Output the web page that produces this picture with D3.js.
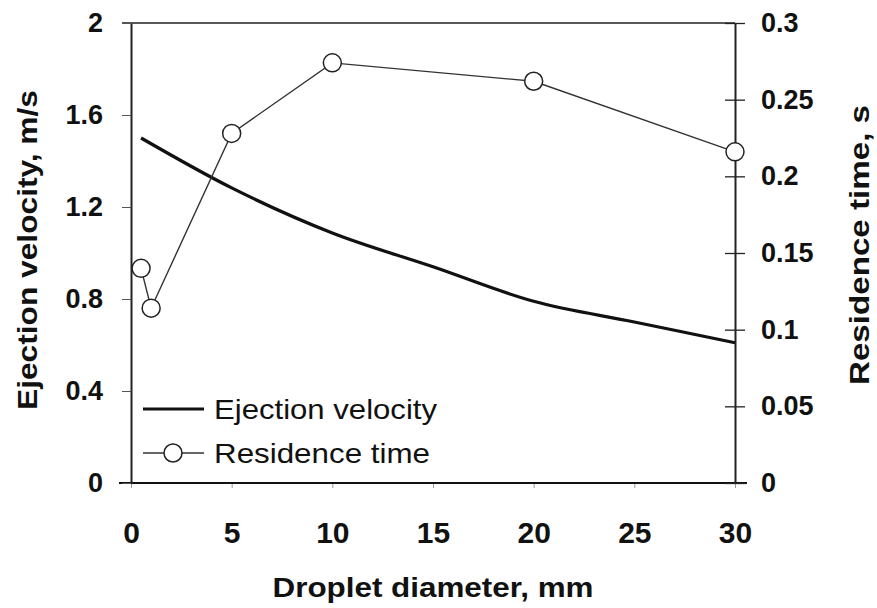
<!DOCTYPE html>
<html>
<head>
<meta charset="utf-8">
<script src="https://cdn.jsdelivr.net/npm/d3@7"></script>
<style>
  body { margin: 0; background: #fff; }
  text { font-family: "Liberation Sans", Arial, sans-serif; fill: #111; }
</style>
</head>
<body>
<script>
var w = 877;
var h = 608;

// data
var diameters = [0.5, 1, 5, 10, 20, 30];
var residence = [0.140, 0.114, 0.228, 0.274, 0.262, 0.216];

var velDiameters = [0.5, 5, 10, 15, 20, 25, 30];
var velocity = [1.50, 1.283, 1.087, 0.94, 0.79, 0.70, 0.61];

var xTicks = [0, 5, 10, 15, 20, 25, 30];
var leftTicks = [0, 0.4, 0.8, 1.2, 1.6, 2];
var rightTicks = [0, 0.05, 0.1, 0.15, 0.2, 0.25, 0.3];

var x = d3.scaleLinear().domain([0, 30]).range([131, 735]);
var yL = d3.scaleLinear().domain([0, 2]).range([483, 23]);
var yR = d3.scaleLinear().domain([0, 0.3]).range([483, 23]);

var svg = d3.select("body")
  .append("svg")
  .attr("width", w)
  .attr("height", h);

// top border
svg.append("line")
  .attr("x1", 122).attr("x2", x(30))
  .attr("y1", yL(2)).attr("y2", yL(2))
  .style("stroke", "#222").style("stroke-width", 1.3);

// bottom axis
var xAxis = svg.append("g")
  .attr("transform", "translate(0," + yL(0) + ")")
  .call(d3.axisBottom(x).tickValues(xTicks).tickSize(5).tickSizeOuter(0).tickPadding(33));
xAxis.select(".domain").remove();
xAxis.selectAll(".tick line").style("stroke", "#999");
xAxis.selectAll("text").style("font-size", "30px").style("font-weight", "bold").attr("dy", "0.72em");
svg.append("line")
  .attr("x1", 119).attr("x2", 747)
  .attr("y1", yL(0)).attr("y2", yL(0))
  .style("stroke", "#111").style("stroke-width", 2);

// left axis
var left = svg.append("g")
  .attr("transform", "translate(" + x(0) + ",0)")
  .call(d3.axisLeft(yL).tickValues(leftTicks).tickSize(9).tickSizeOuter(0).tickPadding(20)
    .tickFormat(function(d) { return d3.format("")(d); }));
left.select(".domain").style("stroke", "#222").style("stroke-width", 2);
left.selectAll(".tick line").style("stroke", "#555");
left.selectAll("text").style("font-size", "27px").style("font-weight", "bold").attr("x", -28);

// right axis
var right = svg.append("g")
  .attr("transform", "translate(" + x(30) + ",0)")
  .call(d3.axisRight(yR).tickValues(rightTicks).tickSize(10).tickSizeOuter(0).tickPadding(18)
    .tickFormat(function(d) { return d3.format("")(d); }));
right.select(".domain").style("stroke", "#222").style("stroke-width", 2);
right.selectAll(".tick line").attr("x1", -10).style("stroke", "#222").style("stroke-width", 1.3);
right.selectAll("text").style("font-size", "27px").style("font-weight", "bold").attr("x", 26);

// ejection velocity
var velLine = d3.line()
  .x(function(d, i) { return x(velDiameters[i]); })
  .y(function(d) { return yL(d); })
  .curve(d3.curveMonotoneX);
svg.append("path")
  .datum(velocity)
  .attr("d", velLine)
  .style("fill", "none")
  .style("stroke", "#111")
  .style("stroke-width", 3.2);

// residence time
var resLine = d3.line()
  .x(function(d, i) { return x(diameters[i]); })
  .y(function(d) { return yR(d); });
svg.append("path")
  .datum(residence)
  .attr("d", resLine)
  .style("fill", "none")
  .style("stroke", "#333")
  .style("stroke-width", 1.4);
svg.selectAll("circle.res")
  .data(residence)
  .enter()
  .append("circle")
  .attr("class", "res")
  .attr("cx", function(d, i) { return x(diameters[i]); })
  .attr("cy", function(d) { return yR(d); })
  .attr("r", 9)
  .style("fill", "#fff")
  .style("stroke", "#222")
  .style("stroke-width", 1.5);

// legend
var legend = svg.append("g");
legend.append("line")
  .attr("x1", 143).attr("x2", 204).attr("y1", 409).attr("y2", 409)
  .style("stroke", "#111").style("stroke-width", 3.2);
legend.append("text")
  .attr("x", 214).attr("y", 419)
  .attr("textLength", 223).attr("lengthAdjust", "spacingAndGlyphs")
  .style("font-size", "28px")
  .text("Ejection velocity");
legend.append("line")
  .attr("x1", 143).attr("x2", 204).attr("y1", 453).attr("y2", 453)
  .style("stroke", "#333").style("stroke-width", 1.4);
legend.append("circle")
  .attr("cx", 173).attr("cy", 453).attr("r", 9)
  .style("fill", "#fff").style("stroke", "#222").style("stroke-width", 1.5);
legend.append("text")
  .attr("x", 214).attr("y", 463)
  .attr("textLength", 216).attr("lengthAdjust", "spacingAndGlyphs")
  .style("font-size", "28px")
  .text("Residence time");

// axis titles
svg.append("text")
  .attr("x", 433).attr("y", 597)
  .attr("text-anchor", "middle")
  .attr("textLength", 321).attr("lengthAdjust", "spacingAndGlyphs")
  .style("font-size", "27px").style("font-weight", "bold")
  .text("Droplet diameter, mm");

svg.append("text")
  .attr("transform", "translate(37,250) rotate(-90)")
  .attr("text-anchor", "middle")
  .attr("textLength", 320).attr("lengthAdjust", "spacingAndGlyphs")
  .style("font-size", "27px").style("font-weight", "bold")
  .text("Ejection velocity, m/s");

svg.append("text")
  .attr("transform", "translate(869,245) rotate(-90)")
  .attr("text-anchor", "middle")
  .attr("textLength", 280).attr("lengthAdjust", "spacingAndGlyphs")
  .style("font-size", "27px").style("font-weight", "bold")
  .text("Residence time, s");
</script>
</body>
</html>
